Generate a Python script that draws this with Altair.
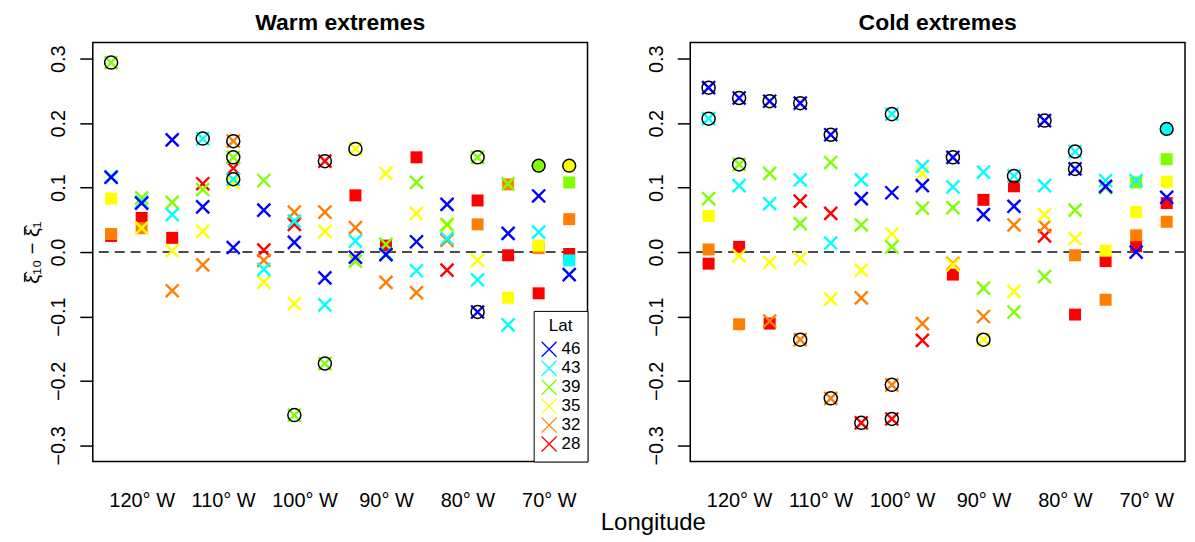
import altair as alt
import pandas as pd

# ---------------- data ----------------
lons = [-123.75, -120.0, -116.25, -112.5, -108.75, -105.0, -101.25, -97.5,
        -93.75, -90.0, -86.25, -82.5, -78.75, -75.0, -71.25, -67.5]
lat_order = ["46", "43", "39", "35", "32", "28"]
lat_colors = ["#0000FF", "#00FFFF", "#80FF00", "#FFFF00", "#FF8000", "#FF0000"]
x_ticks = [-120, -110, -100, -90, -80, -70]
y_ticks = [-0.3, -0.2, -0.1, 0.0, 0.1, 0.2, 0.3]

warm_46 = [0.116, 0.076, 0.174, 0.070, 0.007, 0.065, 0.015, -0.040, -0.008, -0.004, 0.016, 0.074, -0.093, 0.029, 0.087, -0.035]
warm_43 = [0.117, 0.078, 0.058, 0.176, 0.113, -0.027, 0.048, -0.082, 0.017, -0.003, -0.029, 0.021, -0.043, -0.113, 0.031, -0.013]
warm_39 = [0.294, 0.084, 0.077, 0.097, 0.147, 0.111, -0.253, -0.173, -0.014, 0.012, 0.108, 0.043, 0.147, 0.106, 0.134, 0.108]
warm_35 = [0.083, 0.037, 0.002, 0.032, 0.108, -0.047, -0.080, 0.032, 0.160, 0.122, 0.060, 0.041, -0.013, -0.071, 0.010, 0.134]
warm_32 = [0.028, 0.037, -0.060, -0.020, 0.172, -0.013, 0.062, 0.062, 0.038, -0.047, -0.063, 0.018, 0.043, 0.105, 0.006, 0.051]
warm_28 = [0.025, 0.053, 0.022, 0.106, 0.130, 0.003, 0.043, 0.141, 0.088, 0.010, 0.147, -0.028, 0.080, -0.005, -0.064, -0.003]

cold_46 = [0.255, 0.239, 0.234, 0.231, 0.182, 0.083, 0.092, 0.103, 0.147, 0.058, 0.071, 0.204, 0.129, 0.102, 0.000, 0.085]
cold_43 = [0.207, 0.103, 0.075, 0.112, 0.014, 0.112, 0.214, 0.133, 0.101, 0.124, 0.118, 0.103, 0.156, 0.111, 0.111, 0.191]
cold_39 = [0.083, 0.136, 0.122, 0.044, 0.139, 0.042, 0.008, 0.068, 0.069, -0.056, -0.093, -0.038, 0.065, 0.100, 0.108, 0.144]
cold_35 = [0.056, -0.006, -0.016, -0.010, -0.073, -0.028, 0.028, 0.122, -0.020, -0.136, -0.061, 0.058, 0.021, 0.002, 0.062, 0.109]
cold_32 = [0.004, -0.112, -0.107, -0.136, -0.227, -0.071, -0.206, -0.111, -0.018, -0.100, 0.042, 0.040, -0.005, -0.074, 0.026, 0.047]
cold_28 = [-0.018, 0.008, -0.111, 0.079, 0.060, -0.265, -0.259, -0.137, -0.035, 0.081, 0.102, 0.025, -0.097, -0.014, 0.009, 0.076]

# grid columns (index into lons) that are ocean cells (drawn as squares)
ocean_46 = []
ocean_43 = [15]
ocean_39 = [14, 15]
ocean_35 = [0, 13, 14, 15]
ocean_32 = [0, 1, 12, 13, 14, 15]
ocean_28 = [0, 1, 2, 8, 9, 10, 12, 13, 14, 15]

# significant cells (circled)
warm_sig_46 = [12]
warm_sig_43 = [3, 4]
warm_sig_39 = [0, 4, 6, 7, 12, 14]
warm_sig_35 = [8, 15]
warm_sig_32 = [4]
warm_sig_28 = [7]
cold_sig_46 = [0, 1, 2, 3, 4, 8, 11, 12]
cold_sig_43 = [0, 6, 10, 12, 15]
cold_sig_39 = [1]
cold_sig_35 = [9]
cold_sig_32 = [3, 4, 6]
cold_sig_28 = [5, 6]

# ---------------- table ----------------
values = {
    ("warm", "46"): warm_46, ("warm", "43"): warm_43, ("warm", "39"): warm_39,
    ("warm", "35"): warm_35, ("warm", "32"): warm_32, ("warm", "28"): warm_28,
    ("cold", "46"): cold_46, ("cold", "43"): cold_43, ("cold", "39"): cold_39,
    ("cold", "35"): cold_35, ("cold", "32"): cold_32, ("cold", "28"): cold_28,
}
ocean = {"46": ocean_46, "43": ocean_43, "39": ocean_39, "35": ocean_35, "32": ocean_32, "28": ocean_28}
sig = {
    ("warm", "46"): warm_sig_46, ("warm", "43"): warm_sig_43, ("warm", "39"): warm_sig_39,
    ("warm", "35"): warm_sig_35, ("warm", "32"): warm_sig_32, ("warm", "28"): warm_sig_28,
    ("cold", "46"): cold_sig_46, ("cold", "43"): cold_sig_43, ("cold", "39"): cold_sig_39,
    ("cold", "35"): cold_sig_35, ("cold", "32"): cold_sig_32, ("cold", "28"): cold_sig_28,
}

rows = []
for panel in ["warm", "cold"]:
    for lat in ["28", "32", "35", "39", "43", "46"]:  # drawing order
        for i, lon in enumerate(lons):
            v = values[(panel, lat)][i]
            is_ocean = i in ocean[lat]
            is_sig = i in sig[(panel, lat)]
            if is_ocean and is_sig:
                kind = "fcircle"
            elif is_ocean:
                kind = "square"
            else:
                kind = "cross"
            rows.append({"panel": panel, "lat": lat, "latf": lat, "lon": lon, "val": v,
                         "kind": kind, "ring": (is_sig and not is_ocean)})
df = pd.DataFrame(rows)

CROSS = "M-1,-1L1,1M1,-1L-1,1"
FONT = "Liberation Sans"
W, H = 496, 420


def make_panel(name, title, first):
    d = df[df["panel"] == name]
    xs = alt.Scale(domain=[-126, -65.25], nice=False, zero=False)
    ys = alt.Scale(domain=[-0.325, 0.325], nice=False, zero=False)
    x_axis = alt.Axis(values=x_ticks, labelExpr="abs(datum.value) + '° W'",
                      ticks=False, tickSize=0, domain=False, grid=False,
                      labelFontSize=20, labelPadding=29, labelFlush=False,
                      labelOverlap=False, title=None)
    y_axis = alt.Axis(values=y_ticks, format=".1f", grid=False, domain=False,
                      tickSize=13, tickWidth=1.5, tickColor="black",
                      labelAngle=270, labelAlign="center", labelBaseline="bottom",
                      labelFontSize=20, labelPadding=11, labelFlush=False,
                      labelOverlap=False,
                      title="ξ̂₁₀ − ξ̂₁" if first else None,
                      titleFontSize=20, titleFontWeight="normal", titlePadding=6)
    X = alt.X("lon:Q", scale=xs, axis=x_axis)
    Y = alt.Y("val:Q", scale=ys, axis=y_axis)
    Xn = alt.X("lon:Q", scale=xs)
    Yn = alt.Y("val:Q", scale=ys)

    zero = alt.Chart(pd.DataFrame({"val": [0.0]})).mark_rule(
        strokeDash=[10, 6], color="#4a4a4a", strokeWidth=2
    ).encode(y=Y)

    # fill scale uses a differently ordered domain so its (hidden) legend is not merged
    fill_scale = alt.Scale(domain=lat_order[::-1], range=lat_colors[::-1])

    squares = alt.Chart(d).transform_filter(alt.datum.kind == "square").mark_square(
        size=144, opacity=1, filled=True
    ).encode(x=X, y=Yn, fill=alt.Fill("latf:N", scale=fill_scale, legend=None))

    if first:
        leg = alt.Legend(title="Lat", orient="bottom-right", offset=0,
                         padding=7, fillColor="white", strokeColor="black",
                         symbolType=CROSS, symbolSize=225, symbolStrokeWidth=1.3,
                         symbolFillColor="transparent",
                         labelFontSize=17, titleFontSize=17, titleFontWeight="normal",
                         titlePadding=6, rowPadding=-2.5, labelOffset=4,
                         titleAnchor="middle",
                         labelFont=FONT, titleFont=FONT,
                         labelColor="black", titleColor="black")
        stroke_enc = alt.Stroke("lat:N", scale=alt.Scale(domain=lat_order, range=lat_colors),
                                legend=leg)
    else:
        stroke_enc = alt.Stroke("lat:N", scale=alt.Scale(domain=lat_order, range=lat_colors),
                                legend=None)
    crosses = alt.Chart(d).transform_filter(alt.datum.kind == "cross").mark_point(
        shape=CROSS, filled=False, size=169, strokeWidth=2.4, opacity=1
    ).encode(x=Xn, y=Yn, stroke=stroke_enc)

    fcircles = alt.Chart(d).transform_filter(alt.datum.kind == "fcircle").mark_point(
        shape="circle", filled=True, size=165, opacity=1, stroke="black", strokeWidth=1.5
    ).encode(x=Xn, y=Yn, fill=alt.Fill("latf:N", scale=fill_scale, legend=None))

    rings = alt.Chart(d).transform_filter(alt.datum.ring == True).mark_point(
        shape="circle", filled=False, size=170, opacity=1, color="black", strokeWidth=1.5
    ).encode(x=Xn, y=Yn)

    return alt.layer(zero, squares, crosses, fcircles, rings).properties(
        width=W, height=H,
        title=alt.TitleParams(title, fontSize=23, fontWeight="bold", font=FONT,
                              anchor="middle", baseline="bottom", offset=-15,
                              color="black"),
    )


warm_chart = make_panel("warm", "Warm extremes", True)
cold_chart = make_panel("cold", "Cold extremes", False)

chart = alt.hconcat(warm_chart, cold_chart, spacing=56).resolve_scale(
    stroke="independent", fill="independent", x="independent", y="independent"
).resolve_legend(stroke="independent", fill="independent").properties(
    title=alt.TitleParams("Longitude", orient="bottom", anchor="middle", fontSize=24,
                          fontWeight="normal", font=FONT, offset=0, dx=49, color="black"),
    padding={"left": 14, "top": 2, "right": 0, "bottom": 0},
    background="white",
).configure_view(stroke="black", strokeWidth=1.5).configure_axis(
    labelFont=FONT, titleFont=FONT, labelColor="black", titleColor="black"
)

chart.save("out.html", embed_options={"renderer": "svg", "actions": False})
